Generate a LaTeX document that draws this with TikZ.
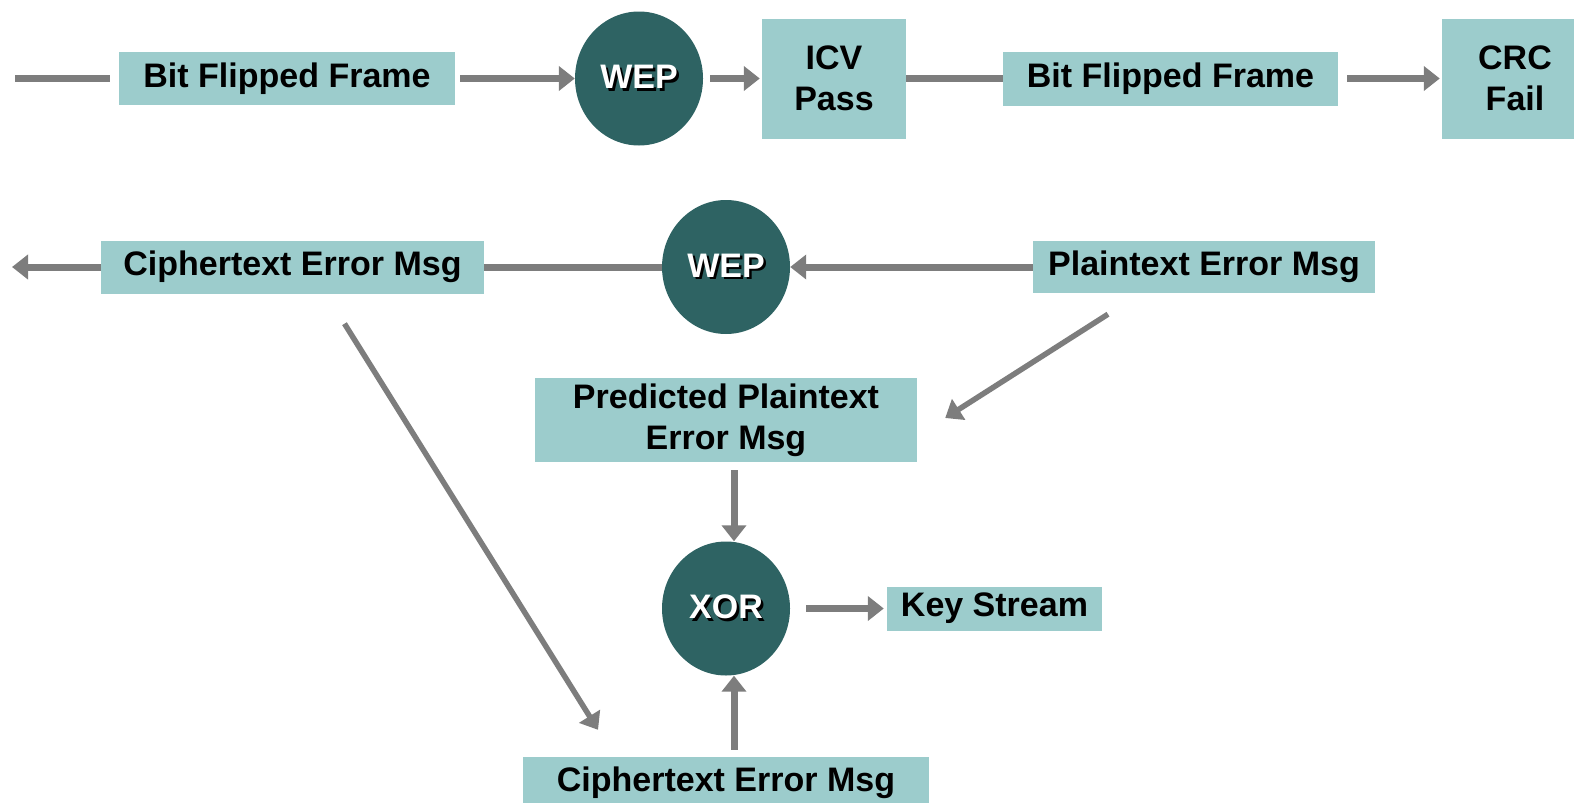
\documentclass[tikz,border=0pt]{standalone}
\usepackage{fontspec}
\setmainfont{Liberation Sans}
\usetikzlibrary{arrows.meta}
\usetikzlibrary{shapes}
\usetikzlibrary{calc}
\definecolor{boxTeal}{RGB}{156,204,204}
\definecolor{ringTeal}{RGB}{46,99,99}
\definecolor{pipeGray}{RGB}{125,125,125}
\newcommand{\raisedText}[1]{\rlap{\kern2.5pt\raisebox{-2.5pt}{\color{black}#1}}#1}

\begin{document}
\begin{tikzpicture}[x = 1pt, y = -1pt, font = \fontsize{34}{41}\selectfont\bfseries]
	\tikzstyle{boxStyle} = [rectangle, fill = boxTeal, inner sep = 0pt, align = center]
	\tikzstyle{ringStyle} = [ellipse, fill = ringTeal, text = white, minimum width = 128pt, minimum height = 134pt, inner sep = 0pt]
	\tikzstyle{pipeStyle} = [draw = pipeGray, line width = 7pt]
	\tikzstyle{arrowStyle} = [pipeStyle, -{Triangle[length = 16pt, width = 24pt]}]
	\useasboundingbox (0,0) rectangle (1574,803);
	\clip (0,0) rectangle (1574,803);
	\node[boxStyle, minimum width = 336pt, minimum height = 53pt] (bf1) at (287,78.5) {Bit Flipped Frame};
	\node[ringStyle] (wep1) at (639,78.5) {\raisedText{WEP}};
	\node[boxStyle, minimum width = 144pt, minimum height = 120pt] (icv) at (834,78.5) {ICV\\Pass};
	\node[boxStyle, minimum width = 335pt, minimum height = 54pt] (bf2) at (1170.5,78.5) {Bit Flipped Frame};
	\node[boxStyle, minimum width = 146pt, minimum height = 120pt] (crc) at (1515,78.5) {CRC\\Fail};
	\node[boxStyle, minimum width = 383pt, minimum height = 53pt] (ct1) at (292.5,267) {Ciphertext Error Msg};
	\node[ringStyle] (wep2) at (726,267) {\raisedText{WEP}};
	\node[boxStyle, minimum width = 342pt, minimum height = 52pt] (pt1) at (1204,267) {Plaintext Error Msg};
	\node[boxStyle, minimum width = 382pt, minimum height = 84pt] (pred) at (726,420) {Predicted Plaintext\\Error Msg};
	\node[ringStyle] (xor) at (726,608.5) {\raisedText{XOR}};
	\node[boxStyle, minimum width = 215pt, minimum height = 44pt] (ks) at (994.5,608.5) {Key Stream};
	\node[boxStyle, minimum width = 406pt, minimum height = 52pt] (ct2) at (726,783) {Ciphertext Error Msg};
	\coordinate (inA) at (15,78.5);
	\coordinate (outB) at (12,267);
	\draw[pipeStyle, shorten > = 9pt] (inA) -- (bf1.west);
	\draw[arrowStyle, shorten < = 5pt] (bf1) -- (wep1);
	\draw[arrowStyle, shorten < = 7pt, shorten > = 2pt] (wep1) -- (icv);
	\draw[pipeStyle] (icv) -- (bf2);
	\draw[arrowStyle, shorten < = 9pt, shorten > = 2pt] (bf2) -- (crc);
	\draw[arrowStyle] (ct1) -- (outB);
	\draw[pipeStyle] (ct1) -- (wep2);
	\draw[arrowStyle] (pt1) -- (wep2);
	\draw[arrowStyle, line width = 5.5pt] ($(pt1.south)+(-96,21)$) -- ($(pred.east)+(28,-2)$);
	\draw[arrowStyle, shorten < = 8pt] ([xshift = 8pt]pred.south) -- ([xshift = 8pt]xor.north);
	\draw[arrowStyle, shorten < = 16pt, shorten > = 3pt] (xor) -- (ks);
	\draw[arrowStyle, shorten < = 7pt] ([xshift = 8pt]ct2.north) -- ([xshift = 8pt]xor.south);
	\draw[arrowStyle, line width = 5.5pt] ($(ct1.south)+(52,30)$) -- ($(ct2.north)+(-128,-27)$);
	\end{tikzpicture}
\end{document}
